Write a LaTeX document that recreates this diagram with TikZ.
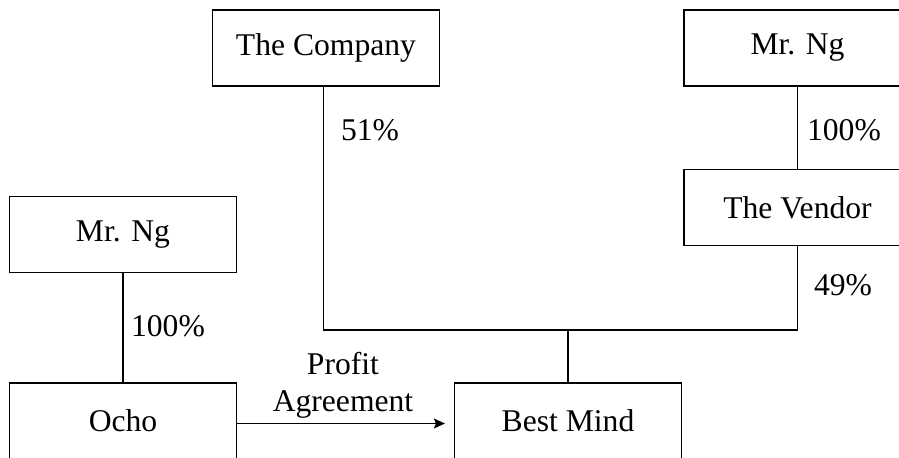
\documentclass[tikz,border=0pt]{standalone}
\usepackage{fontspec}
\setmainfont{Liberation Serif}
\usetikzlibrary{arrows.meta}
\begin{document}
\begin{tikzpicture}[x=0.02cm,y=-0.02cm,>={Stealth[length=0.22cm,width=0.2cm,inset=0.04cm]},line width=0.7pt,
	box/.style={draw,minimum width=4.54cm,minimum height=1.52cm,inner sep=0pt},
	every node/.style={font=\fontsize{18}{21}\selectfont}]
		\useasboundingbox (0,0) rectangle (899,457);
		\clip (0,0) rectangle (899,457);
		% boxes
		\node[box] (company) at (326,48) {The Company};
		\node[box] (ngright) at (797.5,48) {Mr. Ng};
		\node[box] (vendor) at (797.5,207.7) {The Vendor};
		\node[box] (ngleft) at (123,234.5) {Mr. Ng};
		\node[box] (ocho) at (123,421) {Ocho};
		\node[box] (bestmind) at (568,421) {Best Mind};
		% shareholding
		\coordinate (jl) at (323.3,330);
		\coordinate (jr) at (797.5,330);
		\draw (company.south -| jl) -- (jl) -- (jr) -- (vendor.south);
		\draw (bestmind.north) -- (bestmind.north |- jl);
		\draw (ngright) -- (vendor);
		\draw (ngleft) -- (ocho);
		\draw[->,shorten >=0.18cm] ([yshift=-0.05cm]ocho.east) -- ([yshift=-0.05cm]bestmind.west);
		% labels
		\draw (370,130) node {51\%};
		\draw (844,130) node {100\%};
		\draw (843,285) node {49\%};
		\draw (168,326) node {100\%};
		\draw (343,385) node[align=center] {Profit\\Agreement};
\end{tikzpicture}
\end{document}
